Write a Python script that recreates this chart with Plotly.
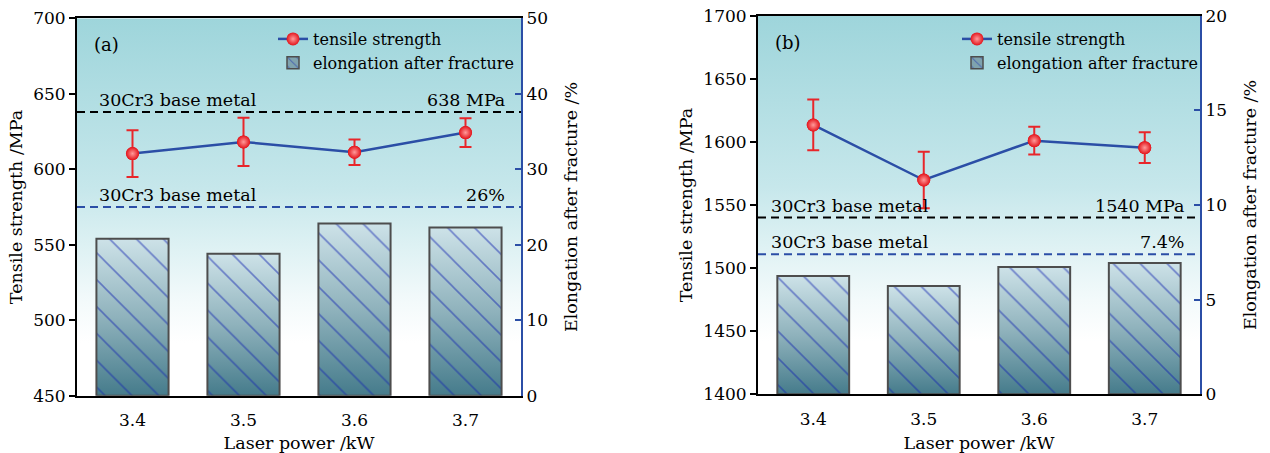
import base64
import plotly.graph_objects as go

# ---------------- data ----------------
powers = [3.4, 3.5, 3.6, 3.7]
tick_labels = ["3.4", "3.5", "3.6", "3.7"]

ts_a = [610.4, 618.1, 611.3, 624.3]
ts_err_a = [15.5, 16.0, 8.4, 9.5]
el_a = [20.8, 18.8, 22.8, 22.3]

ts_b = [1613.4, 1569.8, 1601.0, 1595.4]
ts_err_b = [20.1, 22.3, 11.0, 12.2]
el_b = [6.25, 5.72, 6.72, 6.94]

base_ts = [638, 1540]
base_ts_labels = ["638 MPa", "1540 MPa"]
base_el = [25.0, 7.4]
base_el_labels = ["26%", "7.4%"]
panel_labels = ["(a)", "(b)"]

ts_ranges = [[450, 700], [1400, 1700]]
el_ranges = [[0, 50], [0, 20]]
el_dticks = [10, 5]

# ---------------- style ----------------
FONT = "DejaVu Serif"
BLUE = "#2b4ea6"
RED = "#e3141b"
HATCH = "#1426b0"
BAR_W = 0.065
W, H = 1270, 453
BAR_SCALE = [[0, "#457b8b"], [0.5, "#8fb2bc"], [1, "#cde2e8"]]


def svg_uri(stops):
    st = "".join(f'<stop offset="{o}" stop-color="{c}"/>' for o, c in stops)
    svg = ('<svg xmlns="http://www.w3.org/2000/svg" width="100" height="100" '
           'viewBox="0 0 100 100" preserveAspectRatio="none"><defs>'
           '<linearGradient id="g" x1="0" y1="0" x2="0" y2="1">' + st +
           '</linearGradient></defs><rect width="100" height="100" fill="url(#g)"/></svg>')
    return "data:image/svg+xml;base64," + base64.b64encode(svg.encode()).decode()


bg_uri = svg_uri([(0, "#9ed5db"), (0.45, "#c6e7eb"), (0.6, "#ddf1f3"),
                  (0.75, "#f3fafb"), (0.86, "#ffffff"), (1, "#ffffff")])

panels = [
    dict(ts=ts_a, err=ts_err_a, el=el_a, xdom=[77 / W, 521 / W],
         ydom=[(H - 395.7) / H, (H - 18.3) / H]),
    dict(ts=ts_b, err=ts_err_b, el=el_b, xdom=[758 / W, 1200 / W],
         ydom=[(H - 394.3) / H, (H - 15.7) / H]),
]
axis_ids = [
    dict(x="x", y="y", y2="y2", yh="y5", lg="legend"),
    dict(x="x2", y="y3", y2="y4", yh="y6", lg="legend2"),
]

fig = go.Figure()
images, shapes, annotations = [], [], []
layout = {}
marker_style = dict(size=13, color=RED, gradient=dict(type="radial", color="#ff9a9a"),
                    line=dict(width=0))

for i, p in enumerate(panels):
    a = axis_ids[i]
    xa, ya, ya2, yh, lg = a["x"], a["y"], a["y2"], a["yh"], a["lg"]

    # tensile strength line
    fig.add_trace(go.Scatter(
        x=powers, y=p["ts"], xaxis=xa, yaxis=ya, mode="lines+markers",
        name="tensile strength", legend=lg,
        line=dict(color=BLUE, width=2.5), marker=marker_style,
        error_y=dict(type="data", array=p["err"], color="#e8262a", thickness=2, width=6),
    ))
    fig.add_trace(go.Scatter(
        x=powers, y=p["ts"], xaxis=xa, yaxis=ya, mode="markers", showlegend=False,
        marker=marker_style, hoverinfo="skip",
    ))
    # gradient body of each bar (on the visible right axis)
    for xv, yv in zip(powers, p["el"]):
        fig.add_trace(go.Scatter(
            x=[xv - BAR_W / 2, xv + BAR_W / 2, xv + BAR_W / 2, xv - BAR_W / 2],
            y=[0, 0, yv, yv], xaxis=xa, yaxis=ya2, fill="toself", mode="lines",
            line=dict(width=0), fillgradient=dict(type="vertical", colorscale=BAR_SCALE),
            showlegend=False, hoverinfo="skip",
        ))
    # hatch + outline of the bars (hidden overlay axis with same range, drawn above)
    fig.add_trace(go.Bar(
        x=powers, y=p["el"], xaxis=xa, yaxis=yh, width=BAR_W, showlegend=False,
        marker=dict(color="rgba(0,0,0,0)", line=dict(color="#4d4d4d", width=2),
                    pattern=dict(shape="\\", fgcolor=HATCH, size=19, solidity=0.085,
                                 fillmode="overlay")),
    ))
    # legend entry for the bars
    fig.add_trace(go.Bar(
        x=[None], y=[None], xaxis=xa, yaxis=yh, name="elongation after fracture",
        legend=lg,
        marker=dict(color="#7fa3ae", line=dict(color="#4d4d4d", width=1.5),
                    pattern=dict(shape="\\", fgcolor=HATCH, size=8, solidity=0.15,
                                 fillmode="overlay")),
    ))

    images.append(dict(source=bg_uri, xref=f"{xa} domain", yref=f"{ya} domain", x=0, y=1,
                       sizex=1, sizey=1, xanchor="left", yanchor="top",
                       sizing="stretch", layer="below"))

    shapes.append(dict(type="line", xref=f"{xa} domain", x0=0, x1=1, yref=ya,
                       y0=base_ts[i], y1=base_ts[i],
                       line=dict(color="black", width=2, dash="8px,5px")))
    shapes.append(dict(type="line", xref=f"{xa} domain", x0=0, x1=1, yref=ya2,
                       y0=base_el[i], y1=base_el[i],
                       line=dict(color=BLUE, width=2, dash="8px,5px")))

    lx = 0.045 if i == 0 else 0.025
    annotations += [
        dict(text="30Cr3 base metal", xref=f"{xa} domain", x=lx, yref=ya, y=base_ts[i],
             xanchor="left", yanchor="bottom", showarrow=False, font=dict(size=17.5)),
        dict(text=base_ts_labels[i], xref=f"{xa} domain", x=0.968, yref=ya, y=base_ts[i],
             xanchor="right", yanchor="bottom", showarrow=False, font=dict(size=17.5)),
        dict(text="30Cr3 base metal", xref=f"{xa} domain", x=lx, yref=ya2, y=base_el[i],
             xanchor="left", yanchor="bottom", showarrow=False, font=dict(size=17.5)),
        dict(text=base_el_labels[i], xref=f"{xa} domain", x=0.968, yref=ya2, y=base_el[i],
             xanchor="right", yanchor="bottom", showarrow=False, font=dict(size=17.5)),
        dict(text=panel_labels[i], xref=f"{xa} domain", x=0.034, yref=f"{ya} domain",
             y=0.93, xanchor="left", yanchor="middle", showarrow=False, font=dict(size=18)),
    ]

    xkey = "xaxis" if i == 0 else "xaxis2"
    ykey = "yaxis" if i == 0 else "yaxis3"
    y2key = "yaxis2" if i == 0 else "yaxis4"
    yhkey = "yaxis5" if i == 0 else "yaxis6"
    layout[xkey] = dict(domain=p["xdom"], anchor=ya, range=[3.35, 3.75],
                        tickvals=powers, ticktext=tick_labels, ticks="",
                        ticklabelstandoff=8,
                        showline=True, linecolor="black", linewidth=2, mirror=True,
                        showgrid=False, zeroline=False, automargin=False,
                        title=dict(text="Laser power /kW", font=dict(size=17.5), standoff=12),
                        tickfont=dict(size=17))
    layout[ykey] = dict(domain=p["ydom"], anchor=xa, range=ts_ranges[i], dtick=50,
                        ticks="outside", ticklen=6, tickwidth=1.5, tickcolor="black",
                        showline=True, linecolor="black", linewidth=2,
                        showgrid=False, zeroline=False, automargin=False,
                        title=dict(text="Tensile strength /MPa", font=dict(size=17.5),
                                   standoff=6),
                        tickfont=dict(size=17))
    layout[y2key] = dict(overlaying=ya, side="right", anchor=xa, range=el_ranges[i],
                         dtick=el_dticks[i], ticks="inside", ticklen=6, tickwidth=2,
                         tickcolor=BLUE, showline=True, linecolor=BLUE, linewidth=2,
                         showgrid=False, zeroline=False, automargin=False,
                         title=dict(text="Elongation after fracture /%", font=dict(size=17.5),
                                    standoff=18),
                         tickfont=dict(size=17))
    layout[yhkey] = dict(overlaying=ya, side="right", anchor=xa, range=el_ranges[i],
                         visible=False, showgrid=False, zeroline=False)
    layout[lg] = dict(x=(p["xdom"][0] + (196 if i == 0 else 199) / W), xanchor="left",
                      y=(H - 22) / H, yanchor="top", bgcolor="rgba(0,0,0,0)",
                      font=dict(size=16), traceorder="normal", tracegroupgap=0)

fig.update_layout(
    width=W, height=H, margin=dict(l=0, r=0, t=0, b=0),
    paper_bgcolor="white", plot_bgcolor="white",
    font=dict(family=FONT, color="black", size=16),
    images=images, shapes=shapes, annotations=annotations,
    barmode="overlay", showlegend=True,
    **layout,
)

fig.write_html("out.html", config={"displayModeBar": False},
               post_script="document.body.style.margin='0px';")
